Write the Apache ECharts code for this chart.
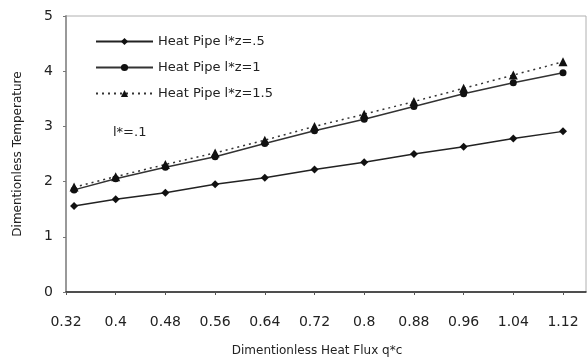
<!DOCTYPE html>
<html>
<head>
<meta charset="utf-8">
<script src="https://cdn.jsdelivr.net/npm/echarts@6/dist/echarts.min.js"></script>
<style>
  html, body { margin: 0; padding: 0; background: #fff; }
  #chart { width: 587px; height: 364px; }
</style>
</head>
<body>
<div id="chart"></div>
<script>
// dimensionless heat flux (x) and temperature for the three l*z cases
var xTicks = [0.32, 0.4, 0.48, 0.56, 0.64, 0.72, 0.8, 0.88, 0.96, 1.04, 1.12];
var xFlux = [0.333, 0.4, 0.48, 0.56, 0.64, 0.72, 0.8, 0.88, 0.96, 1.04, 1.12];
var tempLz05 = [1.56, 1.68, 1.80, 1.95, 2.07, 2.22, 2.35, 2.50, 2.63, 2.78, 2.91];
var tempLz1 = [1.85, 2.05, 2.26, 2.45, 2.69, 2.92, 3.13, 3.36, 3.59, 3.79, 3.97];
var tempLz15 = [1.90, 2.09, 2.31, 2.52, 2.75, 3.00, 3.22, 3.45, 3.69, 3.93, 4.17];
var legendNames = ["Heat Pipe l*z=.5", "Heat Pipe l*z=1", "Heat Pipe l*z=1.5"];

function pairs(xs, ys) {
  return xs.map(function (x, i) { return [x, ys[i]]; });
}

var chart = echarts.init(document.getElementById("chart"));
var font = "DejaVu Sans, Arial, sans-serif";

var option = {
  animation: false,
  backgroundColor: "#fff",
  textStyle: { fontFamily: font },
  grid: {
    left: 66, right: 1, top: 16, bottom: 72,
    show: true, borderColor: "#b0b0b0", borderWidth: 1
  },
  legend: {
    orient: "vertical",
    left: 90, top: 30,
    itemGap: 13,
    itemWidth: 57, itemHeight: 9,
    textStyle: { fontSize: 13, color: "#222", fontFamily: font },
    data: legendNames
  },
  graphic: [{
    type: "text", left: 113, top: 126,
    style: { text: "l*=.1", fontSize: 13, fill: "#222", fontFamily: font }
  }],
  xAxis: {
    type: "value",
    min: 0.32, max: 1.157,
    name: "Dimentionless Heat Flux q*c",
    nameLocation: "middle", nameGap: 53,
    nameTextStyle: { fontSize: 12, color: "#222", fontFamily: font, padding: [0, 18, 0, 0] },
    axisLine: { lineStyle: { color: "#222", width: 1.5 } },
    axisTick: { show: true, length: 3, customValues: xTicks, lineStyle: { color: "#555" } },
    axisLabel: { customValues: xTicks, fontSize: 14, color: "#222", margin: 23 },
    splitLine: { show: false }
  },
  yAxis: {
    type: "value",
    min: 0, max: 5, interval: 1,
    name: "Dimentionless Temperature",
    nameLocation: "middle", nameGap: 42, nameRotate: 90,
    nameTextStyle: { fontSize: 12, color: "#222", fontFamily: font },
    axisLine: { show: true, lineStyle: { color: "#999", width: 2 } },
    axisTick: { show: true, length: 3, lineStyle: { color: "#777" } },
    axisLabel: { fontSize: 14, color: "#222", margin: 13 },
    splitLine: { show: false }
  },
  series: [
    {
      name: legendNames[0], type: "line",
      data: pairs(xFlux, tempLz05),
      symbol: "diamond", symbolSize: 8,
      itemStyle: { color: "#111" },
      lineStyle: { color: "#222", width: 1.5 }
    },
    {
      name: legendNames[1], type: "line",
      data: pairs(xFlux, tempLz1),
      symbol: "circle", symbolSize: 7,
      itemStyle: { color: "#111" },
      lineStyle: { color: "#333", width: 1.5 }
    },
    {
      name: legendNames[2], type: "line",
      data: pairs(xFlux, tempLz15),
      symbol: "triangle", symbolSize: 9,
      itemStyle: { color: "#111" },
      lineStyle: { color: "#333", width: 1.5, type: [2, 4] }
    }
  ]
};
chart.setOption(option);
</script>
</body>
</html>
